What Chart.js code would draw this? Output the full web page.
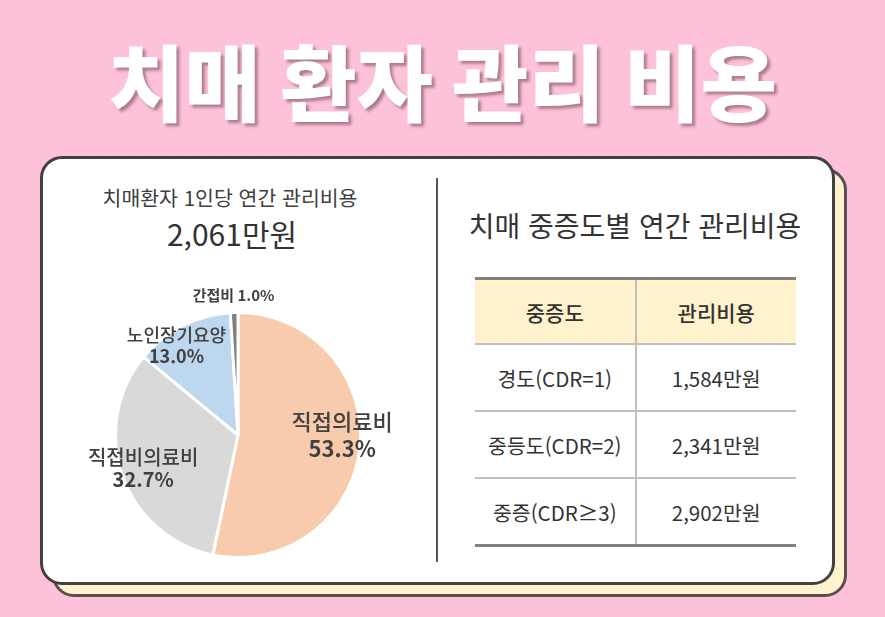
<!DOCTYPE html>
<html lang="ko"><head><meta charset="utf-8">
<script src="https://cdn.jsdelivr.net/npm/chart.js@4/dist/chart.umd.min.js"></script>
<style>
html,body{margin:0;padding:0;}
body{width:885px;height:617px;background:#FEC1DA;position:relative;overflow:hidden;font-family:"Noto Sans CJK KR","Noto Sans",sans-serif;color:#333;}
#title{position:absolute;left:0;top:38px;width:885px;text-align:center;font-size:83px;font-weight:900;line-height:83px;color:#fff;word-spacing:-4px;text-shadow:3px 3px 3px rgba(70,40,55,0.45);white-space:nowrap;}
.back{position:absolute;box-sizing:border-box;left:52px;top:168px;width:795px;height:429px;background:#FFF2CC;border:3px solid #575050;border-radius:22px;}
.card{position:absolute;box-sizing:border-box;left:40px;top:156px;width:795px;height:429px;background:#fff;border:3px solid #454040;border-radius:22px;}
.divider{position:absolute;left:436px;top:178px;width:2px;height:384px;background:#555;}
.txt{position:absolute;white-space:nowrap;transform:translate(-50%,-50%);line-height:1;}
#sub1{left:230px;top:197px;font-size:20.5px;color:#404040;}
#sub2{left:232px;top:233px;font-size:30px;color:#333;}
#rtitle{left:635px;top:225px;font-size:28px;color:#333;}
#pieBox{position:absolute;left:60px;top:275px;width:356px;height:320px;}
table{position:absolute;left:475px;top:277px;width:321px;border-collapse:collapse;border-top:3px solid #808080;border-bottom:3px solid #808080;table-layout:fixed;}
th,td{text-align:center;padding:0;border-bottom:2px solid #BFBFBF;color:#333;}
th{background:#FFF2CC;height:63px;font-size:21px;font-weight:500;}
td{height:65px;font-size:20.5px;font-weight:400;}
tr:last-child td{border-bottom:none;}
th:first-child,td:first-child{border-right:2px solid #BFBFBF;}
</style></head>
<body>
<div id="title">치매 환자 관리 비용</div>
<div class="back"></div>
<div class="card"></div>
<div class="divider"></div>
<div class="txt" id="sub1"></div>
<div class="txt" id="sub2"></div>
<div class="txt" id="rtitle"></div>
<div id="pieBox"><canvas id="pie"></canvas></div>
<table id="tbl"><thead><tr id="thead"></tr></thead><tbody id="tbody"></tbody></table>
<script>
// ---- data ----
const totalLabel = "치매환자 1인당 연간 관리비용";
const totalValue = "2,061만원";
const pieLabels = ["직접의료비", "직접비의료비", "노인장기요양", "간접비"];
const pieValues = [53.3, 32.7, 13.0, 1.0];
const tableTitle = "치매 중증도별 연간 관리비용";
const tableHeaders = ["중증도", "관리비용"];
const severityLabels = ["경도(CDR=1)", "중등도(CDR=2)", "중증(CDR≥3)"];
const severityCosts = ["1,584만원", "2,341만원", "2,902만원"];

// ---- styles ----
const pieColors = ["#F8CBAD", "#D9D9D9", "#BDD7EE", "#7F7F7F"];
const labelRadius = [0.855, 0.82, 0.89, 1.14];
const labelShift = [[0, -11], [0, 0], [-12, 8], [0, 0]];
const labelSize = [22, 20, 18, 15];
const labelGap = [27, 22, 21, 0];

document.getElementById('sub1').textContent = totalLabel;
document.getElementById('sub2').textContent = totalValue;
document.getElementById('rtitle').textContent = tableTitle;
const thead = document.getElementById('thead');
tableHeaders.forEach(h => { const th = document.createElement('th'); th.textContent = h; thead.appendChild(th); });
const tbody = document.getElementById('tbody');
severityLabels.forEach((s, i) => {
  const tr = document.createElement('tr');
  [s, severityCosts[i]].forEach(v => { const td = document.createElement('td'); td.textContent = v; tr.appendChild(td); });
  tbody.appendChild(tr);
});

const FONT = '"Noto Sans CJK KR", "Noto Sans", sans-serif';
const sliceLabels = {
  id: 'sliceLabels',
  afterDatasetsDraw(chart) {
    const ctx = chart.ctx;
    const meta = chart.getDatasetMeta(0);
    ctx.save();
    ctx.textAlign = 'center';
    ctx.textBaseline = 'middle';
    ctx.fillStyle = '#404040';
    meta.data.forEach((arc, i) => {
      const mid = (arc.startAngle + arc.endAngle) / 2;
      const r = arc.outerRadius * labelRadius[i];
      const x = arc.x + Math.cos(mid) * r + labelShift[i][0];
      const y = arc.y + Math.sin(mid) * r + labelShift[i][1];
      const pct = chart.data.datasets[0].data[i].toFixed(1) + '%';
      const name = chart.data.labels[i];
      if (labelGap[i] === 0) {
        ctx.font = `bold ${labelSize[i]}px ${FONT}`;
        ctx.fillText(name + ' ' + pct, x, y);
      } else {
        ctx.font = `500 ${labelSize[i]}px ${FONT}`;
        ctx.fillText(name, x, y - labelGap[i] / 2);
        ctx.font = `bold ${labelSize[i]}px ${FONT}`;
        ctx.fillText(pct, x, y + labelGap[i] / 2);
      }
    });
    ctx.restore();
  }
};

new Chart(document.getElementById('pie'), {
  type: 'pie',
  data: {
    labels: pieLabels,
    datasets: [{
      data: pieValues,
      backgroundColor: pieColors,
      borderColor: '#ffffff',
      borderWidth: 3,
      hoverOffset: 0,
      offset: 0
    }]
  },
  options: {
    responsive: true,
    maintainAspectRatio: false,
    animation: false,
    layout: { padding: 36 },
    plugins: { legend: { display: false }, tooltip: { enabled: false } },
    events: []
  },
  plugins: [sliceLabels]
});
</script>
</body></html>
